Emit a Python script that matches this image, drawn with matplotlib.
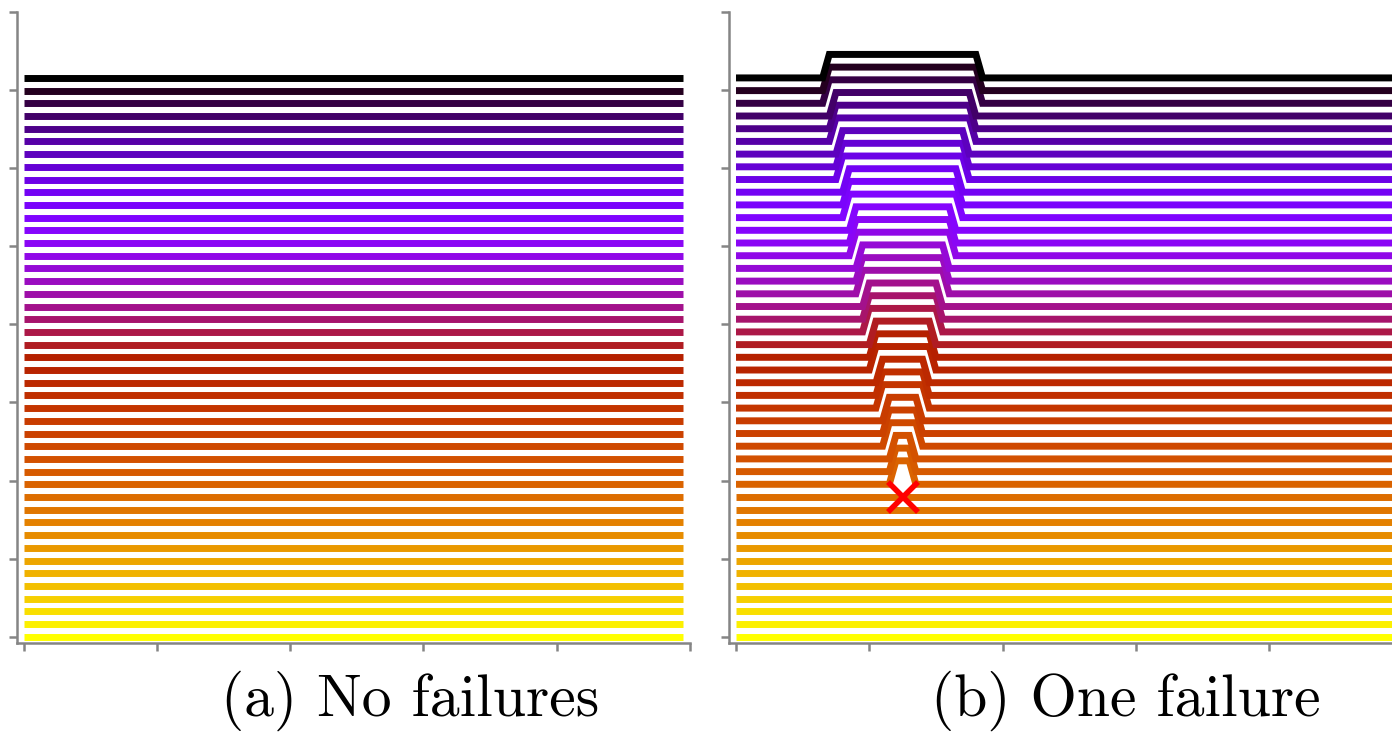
import numpy as np
import matplotlib
matplotlib.use('Agg')
import matplotlib.pyplot as plt

# nodes along x, one horizontal line per time step (bottom = first step)
nodes = np.arange(100)
n_steps = 45

# failure in panel (b): node and time step of the red cross
fail_node = 25
fail_step = 11
# steps after the failure come in groups of 3; each group is lifted over
# a window of +/- halfwidth nodes around the failed node
group_size = 3
spread_halfwidth = [1, 2, 3, 4, 5, 6, 7, 8, 9, 10, 11]
lift = 1.85

xticks = [0, 20, 40, 60, 80, 100]
ytick_step = 6.15
captions = ['(a) No failures', '(b) One failure']

cmap = plt.get_cmap('gnuplot')
grey = '#858585'


def lines_no_failure():
    return [np.full(len(nodes), float(k)) for k in range(n_steps)]


def lines_one_failure():
    out = []
    for k in range(n_steps):
        y = np.full(len(nodes), float(k))
        if k > fail_step:
            hw = spread_halfwidth[(k - fail_step - 1) // group_size]
            y[np.abs(nodes - fail_node) <= hw] += lift
        out.append(y)
    return out


fig = plt.figure(figsize=(13.92, 7.42), dpi=100)
w = 673.3 / 1392
ax1 = fig.add_axes([16.7 / 1392, 0.133, w, 0.851])
ax2 = fig.add_axes([729.0 / 1392, 0.133, w, 0.851])

for ax, lines in [(ax1, lines_no_failure()), (ax2, lines_one_failure())]:
    for k, y in enumerate(lines):
        ax.plot(nodes, y, color=cmap(1 - k / (n_steps - 1)), lw=5.0,
                solid_capstyle='butt', solid_joinstyle='miter')
    ax.set_xlim(-1.05, 100)
    ax.set_ylim(-0.52, 8 * ytick_step)
    ax.set_xticks(xticks)
    ax.set_yticks(np.arange(9) * ytick_step)
    ax.set_xticklabels([])
    ax.set_yticklabels([])
    for s in ['top', 'right']:
        ax.spines[s].set_visible(False)
    for s in ['left', 'bottom']:
        ax.spines[s].set_color(grey)
        ax.spines[s].set_linewidth(1.8)
    ax.tick_params(direction='out', length=5.5, width=1.8, color=grey)

ax2.plot(fail_node, fail_step, marker='x', color='red', ms=21, mew=4)

fig.text(410 / 1392, 1 - 701 / 742, captions[0], ha='center', va='center',
         family='cmr10', fontsize=43)
fig.text(1126 / 1392, 1 - 701 / 742, captions[1], ha='center', va='center',
         family='cmr10', fontsize=43)

fig.savefig('out.png', dpi=100)
